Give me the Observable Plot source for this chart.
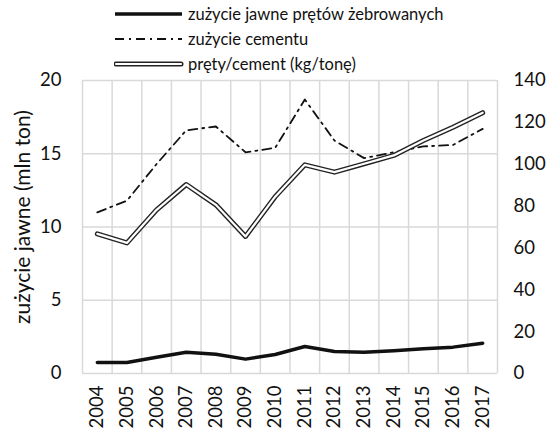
<!DOCTYPE html>
<html>
<head>
<meta charset="utf-8">
<script src="https://cdn.jsdelivr.net/npm/d3@7"></script>
<script src="https://cdn.jsdelivr.net/npm/@observablehq/plot@0.6"></script>
<style>
  html, body { margin: 0; padding: 0; background: #fff; }
  body { width: 552px; height: 434px; overflow: hidden; font-family: Lato, "Open Sans", sans-serif; color: #111; }
  #legend { position: relative; height: 64px; }
  .row { position: absolute; left: 114px; height: 24px; display: flex; align-items: center; font-size: 16.5px; }
  .row svg { margin-right: 4px; }
  #chart svg { overflow: visible; }
</style>
</head>
<body>
<div id="legend"></div>
<div id="chart"></div>
<script>
const years = [2004, 2005, 2006, 2007, 2008, 2009, 2010, 2011, 2012, 2013, 2014, 2015, 2016, 2017];
const rebar = [0.75, 0.75, 1.11, 1.45, 1.32, 0.98, 1.30, 1.84, 1.50, 1.45, 1.55, 1.69, 1.80, 2.07];
const cement = [11.0, 11.8, 14.3, 16.6, 16.86, 15.1, 15.4, 18.7, 15.9, 14.7, 15.1, 15.5, 15.6, 16.7];
const ratio = [66.7, 62.4, 78.2, 90.3, 80.6, 65.5, 84.5, 99.7, 96.2, 100.2, 104.2, 111.3, 117.7, 124.6];
const leftTicks = [0, 5, 10, 15, 20];
const rightTicks = [0, 20, 40, 60, 80, 100, 120, 140];
const seriesNames = ["zużycie jawne prętów żebrowanych", "zużycie cementu", "pręty/cement (kg/tonę)"];
const yTitle = "zużycie jawne (mln ton)";

const rightMax = 140, leftMax = 20;
const k = rightMax / leftMax;

const data = years.map((year, i) => ({year, rebar: rebar[i], cement: cement[i], ratio: ratio[i]}));

// legend
const legend = document.getElementById("legend");
const samples = [
  `<line x1="1" x2="68" y1="6" y2="6" stroke="#111" stroke-width="3.5"/>`,
  `<line x1="1" x2="68" y1="6" y2="6" stroke="#111" stroke-width="1.8" stroke-dasharray="9,5,2,5"/>`,
  `<line x1="2" x2="67" y1="6" y2="6" stroke="#222" stroke-width="5" stroke-linecap="round"/><line x1="2" x2="67" y1="6" y2="6" stroke="#fff" stroke-width="2.2" stroke-linecap="round"/>`
];
seriesNames.forEach((name, i) => {
  const row = document.createElement("div");
  row.className = "row";
  row.style.top = (2 + i * 25) + "px";
  row.innerHTML = `<svg width="70" height="12">${samples[i]}</svg><span>${name}</span>`;
  legend.appendChild(row);
});

const grid = "#d9d9d9";
const chart = Plot.plot({
  width: 552,
  height: 370,
  marginTop: 16,
  marginLeft: 82,
  marginRight: 55,
  marginBottom: 61,
  style: {fontFamily: "Lato, 'Open Sans', sans-serif", fontSize: "18.5px", color: "#111", background: "#fff"},
  x: {domain: [years[0] - 0.5, years[years.length - 1] + 0.5]},
  y: {domain: [0, leftMax]},
  marks: [
    Plot.ruleY(leftTicks, {stroke: grid, strokeWidth: 1.5}),
    Plot.ruleX(d3.range(years[0] - 0.5, years[years.length - 1] + 1, 1), {stroke: grid, strokeWidth: 1.5}),
    Plot.axisY(leftTicks, {tickSize: 0, tickPadding: 21, label: null}),
    Plot.text([yTitle], {frameAnchor: "left", textAnchor: "middle", rotate: -90, dx: -59, dy: -10, fontSize: 21, fill: "#111"}),
    Plot.axisY(rightTicks.map(v => v / k), {anchor: "right", tickSize: 0, tickPadding: 16, tickFormat: d => String(Math.round(d * k)), label: null}),
    Plot.axisX(years, {tickSize: 0, tickPadding: 12, tickRotate: -90, tickFormat: d => String(d), label: null}),
    Plot.line(data, {x: "year", y: "cement", stroke: "#111", strokeWidth: 1.8, strokeDasharray: "9,5,2,5"}),
    Plot.line(data, {x: "year", y: d => d.ratio / k, stroke: "#222", strokeWidth: 5, strokeLinecap: "round"}),
    Plot.line(data, {x: "year", y: d => d.ratio / k, stroke: "#fff", strokeWidth: 2.2, strokeLinecap: "round"}),
    Plot.line(data, {x: "year", y: "rebar", stroke: "#111", strokeWidth: 3.5})
  ]
});
document.getElementById("chart").appendChild(chart);
</script>
</body>
</html>
